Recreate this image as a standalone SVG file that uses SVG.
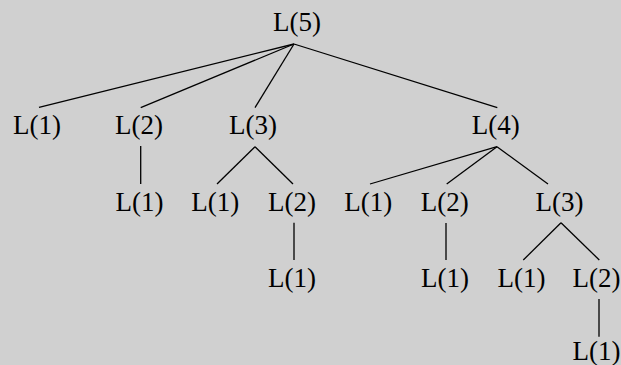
<svg xmlns="http://www.w3.org/2000/svg" width="621" height="365" viewBox="0 0 621 365">
<style>
.n text{font-family:"Liberation Serif","DejaVu Serif",serif;font-size:27px;fill:#000;text-anchor:middle}
.e line{stroke:#000;stroke-width:1.3;fill:none}
</style>
<rect width="621" height="365" fill="#d0d0d0"/>
<g id="edges" class="e">
<line x1="294" y1="44" x2="39" y2="107.3"/>
<line x1="294" y1="44" x2="140.7" y2="107.7"/>
<line x1="294" y1="44" x2="255" y2="107.7"/>
<line x1="294" y1="44" x2="497.3" y2="107.7"/>
<line x1="140.7" y1="146" x2="140.7" y2="184"/>
<line x1="255" y1="146.7" x2="217" y2="184"/>
<line x1="255" y1="146.7" x2="293" y2="184"/>
<line x1="497" y1="146.7" x2="370" y2="184"/>
<line x1="497" y1="146.7" x2="446.7" y2="184"/>
<line x1="497" y1="146.7" x2="548" y2="184"/>
<line x1="294" y1="222.7" x2="294" y2="260"/>
<line x1="446" y1="223" x2="446" y2="260"/>
<line x1="561" y1="222.7" x2="523.3" y2="260"/>
<line x1="561" y1="222.7" x2="599.3" y2="260"/>
<line x1="599" y1="299" x2="599" y2="336.7"/>
</g>
<g class="n">
<g id="n_root"><text x="297" y="31">L(5)</text></g>
<g id="n_a1"><text x="37" y="134">L(1)</text></g>
<g id="n_a2"><text x="139" y="134">L(2)</text></g>
<g id="n_a3"><text x="253" y="134">L(3)</text></g>
<g id="n_a4"><text x="495.7" y="134">L(4)</text></g>
<g id="n_b1"><text x="139.5" y="210.7">L(1)</text></g>
<g id="n_b2"><text x="215.3" y="210.7">L(1)</text></g>
<g id="n_b3"><text x="292" y="210.7">L(2)</text></g>
<g id="n_b4"><text x="368.3" y="210.7">L(1)</text></g>
<g id="n_b5"><text x="444.7" y="210.7">L(2)</text></g>
<g id="n_b6"><text x="559.5" y="210.7">L(3)</text></g>
<g id="n_c1"><text x="292" y="286.7">L(1)</text></g>
<g id="n_c2"><text x="445" y="286.7">L(1)</text></g>
<g id="n_c3"><text x="521.5" y="286.7">L(1)</text></g>
<g id="n_c4"><text x="596.5" y="286.7">L(2)</text></g>
<g id="n_d1"><text x="596.5" y="359.5">L(1)</text></g>
</g>
</svg>
